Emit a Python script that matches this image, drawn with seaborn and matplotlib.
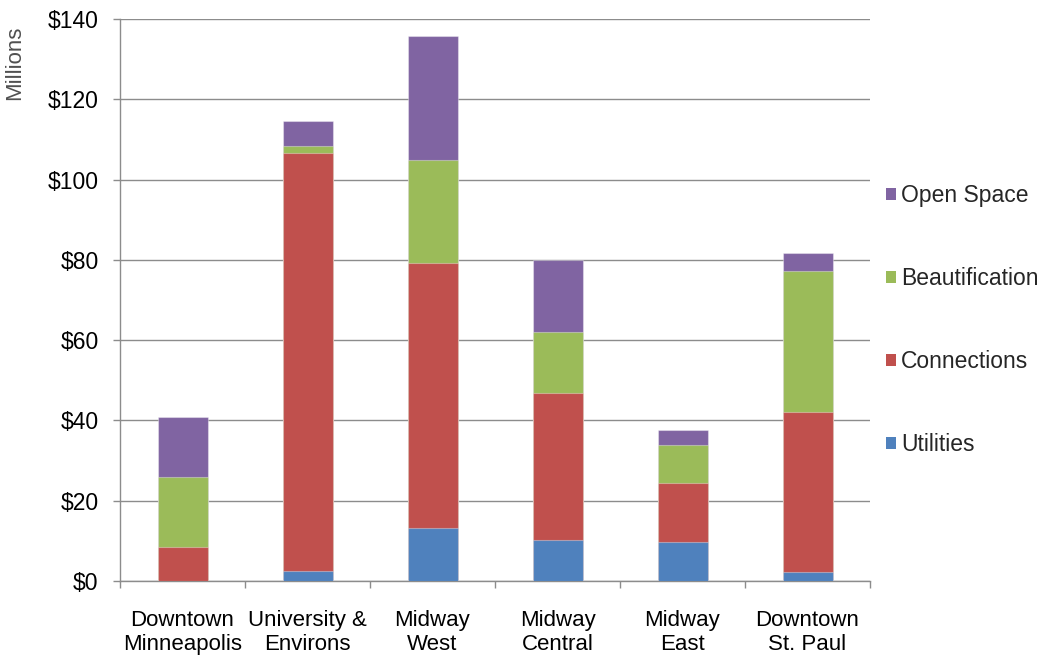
import numpy as np
import pandas as pd
import matplotlib
matplotlib.use("Agg")
import matplotlib.pyplot as plt
from matplotlib.patches import Patch
from matplotlib.ticker import FuncFormatter, MultipleLocator
import seaborn as sns

# Investment by district, $ millions
regions = ["Downtown\nMinneapolis", "University &\nEnvirons", "Midway\nWest",
           "Midway\nCentral", "Midway\nEast", "Downtown\nSt. Paul"]
utilities = [0.0, 2.4, 13.2, 10.1, 9.7, 2.2]
connections = [8.5, 104.1, 66.1, 36.8, 14.6, 39.8]
beautification = [17.4, 1.8, 25.6, 15.2, 9.5, 35.2]
open_space = [15.0, 6.4, 30.9, 17.8, 3.7, 4.6]

series_names = ["Utilities", "Connections", "Beautification", "Open Space"]
series_colors = ["#4F81BD", "#C0504D", "#9BBB59", "#8064A2"]

sns.set_theme(style="white")
plt.rcParams["font.family"] = ["Liberation Sans", "DejaVu Sans"]

df = pd.DataFrame({"region": regions, "Utilities": utilities,
                   "Connections": connections, "Beautification": beautification,
                   "Open Space": open_space})
cum = df[series_names].cumsum(axis=1)

fig = plt.figure(figsize=(10.41, 6.58), dpi=100)
ax = fig.add_axes([120 / 1041, 1 - 581 / 658, 750 / 1041, 562 / 658])

# Stack by overdrawing cumulative totals, tallest first
for name, color in reversed(list(zip(series_names, series_colors))):
    sns.barplot(x=df["region"], y=cum[name], color=color, width=0.4,
                saturation=1, edgecolor=(1, 1, 1, 0.35), linewidth=0.8,
                ax=ax, zorder=3)

ax.set_ylim(0, 140)
ax.set_xlim(-0.5, len(regions) - 0.5)
ax.yaxis.set_major_locator(MultipleLocator(20))
ax.yaxis.set_major_formatter(FuncFormatter(lambda v, p: f"${v:.0f}"))
ax.grid(axis="y", color="#8C8C8C", linewidth=1.0, zorder=0)
ax.set_axisbelow(True)

for side in ["top", "right"]:
    ax.spines[side].set_visible(False)
for side in ["left", "bottom"]:
    ax.spines[side].set_color("#8C8C8C")
    ax.spines[side].set_linewidth(1.0)

ax.tick_params(axis="y", which="major", direction="out", length=5, width=1,
               color="#8C8C8C", labelsize=16.5, labelcolor="black", pad=10.5,
               left=True)
ax.tick_params(axis="x", which="major", length=0, labelsize=16,
               labelcolor="black", pad=21)
ax.set_xticks(np.arange(-0.5, len(regions), 1.0), minor=True)
ax.tick_params(axis="x", which="minor", direction="out", length=5, width=1,
               color="#8C8C8C", bottom=True)
for lab in ax.get_xticklabels():
    lab.set_linespacing(1.2)

ax.set_xlabel("")
ax.set_ylabel("Millions", fontsize=16, color="#505050")
ax.yaxis.set_label_coords(-0.126, 0.922)

handles = [Patch(facecolor=c, edgecolor="none") for c in reversed(series_colors)]
fig.legend(handles, list(reversed(series_names)), loc="upper left",
           bbox_to_anchor=(886 / 1041, 1 - 184 / 658), frameon=False,
           fontsize=16.5, handlelength=0.45, handleheight=0.45, handletextpad=0.2,
           labelspacing=2.62, borderaxespad=0, borderpad=0)

fig.savefig("out.png", dpi=100)
